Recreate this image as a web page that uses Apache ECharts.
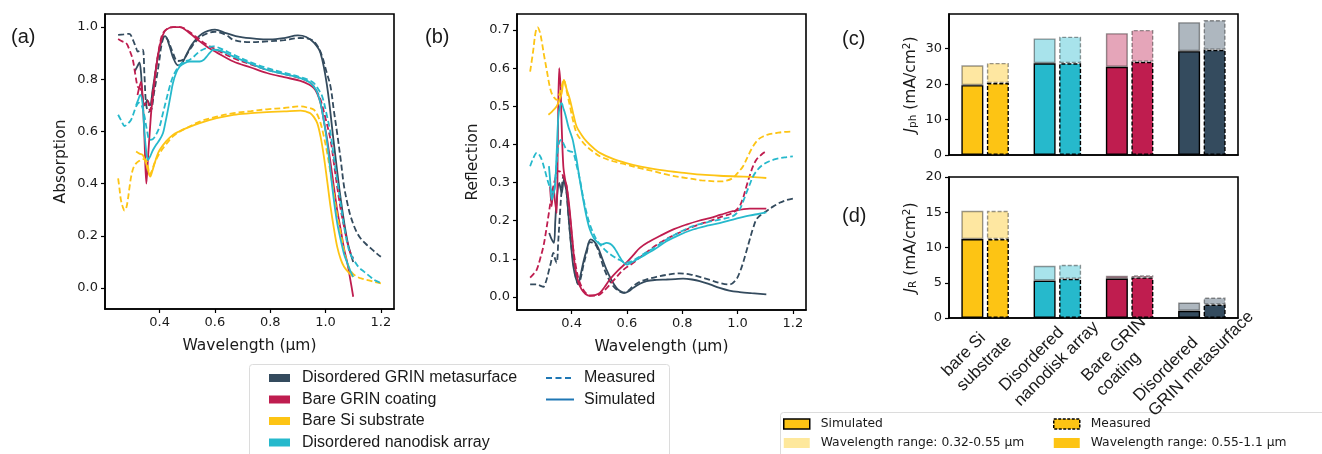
<!DOCTYPE html>
<html>
<head>
<meta charset="utf-8">
<script src="https://cdn.jsdelivr.net/npm/echarts@6.0.0/dist/echarts.min.js"></script>
<style>
  html, body { margin: 0; padding: 0; background: #fff; }
  #chart { width: 1322px; height: 454px; }
</style>
</head>
<body>
<div id="chart"></div>
<script>
// ---------- sample names and colours ----------
const sampleNames = ['Disordered GRIN metasurface', 'Bare GRIN coating', 'Bare Si substrate', 'Disordered nanodisk array'];
const sampleColors = ['#344b5e', '#bf1d4f', '#fdc414', '#26b9cc'];
const lightColors = ['#aeb7bf', '#e5a5b9', '#fee89c', '#a8e3eb'];

// ---------- (a) absorption spectra: [wavelength (µm), absorption] ----------
const absMetaSim = [[0.31,0.83],[0.32,0.85],[0.327,0.865],[0.333,0.82],[0.339,0.72],[0.347,0.70],[0.355,0.72],[0.365,0.70],[0.375,0.76],[0.388,0.85],[0.40,0.92],[0.412,0.958],[0.42,0.965],[0.435,0.93],[0.45,0.88],[0.467,0.853],[0.48,0.86],[0.497,0.894],[0.515,0.93],[0.533,0.955],[0.555,0.975],[0.575,0.985],[0.6,0.99],[0.64,0.977],[0.69,0.962],[0.75,0.955],[0.8,0.953],[0.85,0.958],[0.9,0.968],[0.93,0.962],[0.958,0.94],[0.982,0.9],[1.006,0.77],[1.03,0.555],[1.055,0.34],[1.079,0.18],[1.1,0.1]];
const absMetaMeas = [[0.25,0.97],[0.27,0.972],[0.29,0.974],[0.303,0.952],[0.315,0.92],[0.321,0.906],[0.33,0.91],[0.339,0.913],[0.345,0.82],[0.351,0.708],[0.36,0.675],[0.37,0.683],[0.38,0.75],[0.388,0.798],[0.4,0.88],[0.406,0.926],[0.418,0.965],[0.43,0.95],[0.445,0.91],[0.465,0.87],[0.485,0.875],[0.51,0.915],[0.54,0.955],[0.57,0.975],[0.6,0.982],[0.64,0.97],[0.667,0.951],[0.727,0.942],[0.788,0.945],[0.85,0.95],[0.909,0.958],[0.94,0.955],[0.958,0.945],[0.975,0.92],[0.988,0.887],[1.003,0.83],[1.018,0.772],[1.03,0.68],[1.042,0.593],[1.055,0.49],[1.067,0.389],[1.08,0.32],[1.091,0.274],[1.11,0.22],[1.127,0.19],[1.145,0.17],[1.164,0.152],[1.18,0.137],[1.2,0.12]];
const absGrinSim = [[0.32,0.74],[0.327,0.77],[0.333,0.79],[0.338,0.74],[0.345,0.58],[0.352,0.40],[0.358,0.5],[0.364,0.593],[0.37,0.68],[0.376,0.734],[0.388,0.849],[0.40,0.926],[0.412,0.97],[0.424,0.99],[0.448,1.0],[0.473,1.0],[0.51,0.975],[0.545,0.945],[0.575,0.922],[0.606,0.903],[0.667,0.868],[0.73,0.845],[0.788,0.824],[0.85,0.808],[0.909,0.794],[0.94,0.78],[0.958,0.766],[0.97,0.745],[0.982,0.708],[0.994,0.64],[1.006,0.568],[1.018,0.48],[1.03,0.389],[1.042,0.3],[1.055,0.223],[1.067,0.15],[1.079,0.095],[1.09,0.03],[1.1,-0.033]];
const absGrinMeas = [[0.25,0.954],[0.265,0.945],[0.279,0.939],[0.29,0.915],[0.303,0.875],[0.312,0.82],[0.321,0.772],[0.333,0.76],[0.345,0.70],[0.355,0.72],[0.365,0.68],[0.375,0.75],[0.388,0.85],[0.40,0.93],[0.412,0.977],[0.43,0.995],[0.45,1.0],[0.473,1.0],[0.51,0.98],[0.545,0.951],[0.575,0.93],[0.606,0.913],[0.667,0.881],[0.73,0.857],[0.788,0.836],[0.85,0.82],[0.909,0.804],[0.94,0.79],[0.958,0.772],[0.97,0.75],[0.982,0.721],[1.0,0.65],[1.018,0.568],[1.03,0.48],[1.042,0.389],[1.055,0.3],[1.067,0.235],[1.08,0.17],[1.09,0.135],[1.1,0.114]];
const absSiSim = [[0.315,0.523],[0.327,0.515],[0.339,0.51],[0.35,0.48],[0.358,0.453],[0.366,0.427],[0.374,0.45],[0.382,0.478],[0.39,0.505],[0.4,0.529],[0.424,0.563],[0.448,0.587],[0.47,0.6],[0.497,0.613],[0.545,0.632],[0.606,0.651],[0.667,0.664],[0.73,0.67],[0.788,0.674],[0.85,0.677],[0.909,0.68],[0.93,0.676],[0.945,0.67],[0.958,0.655],[0.97,0.632],[0.982,0.58],[0.994,0.504],[1.006,0.41],[1.018,0.312],[1.03,0.23],[1.042,0.159],[1.055,0.11],[1.067,0.082],[1.085,0.058],[1.1,0.043]];
const absSiMeas = [[0.25,0.42],[0.255,0.38],[0.26,0.338],[0.267,0.31],[0.273,0.297],[0.28,0.31],[0.285,0.338],[0.291,0.385],[0.297,0.427],[0.305,0.46],[0.315,0.478],[0.327,0.488],[0.339,0.494],[0.352,0.49],[0.358,0.465],[0.364,0.434],[0.372,0.45],[0.382,0.48],[0.4,0.517],[0.424,0.552],[0.448,0.581],[0.47,0.598],[0.497,0.613],[0.545,0.638],[0.606,0.657],[0.667,0.67],[0.73,0.678],[0.788,0.685],[0.85,0.69],[0.909,0.696],[0.94,0.69],[0.958,0.683],[0.97,0.665],[0.982,0.632],[0.994,0.58],[1.006,0.517],[1.018,0.44],[1.03,0.363],[1.042,0.28],[1.055,0.21],[1.067,0.145],[1.079,0.095],[1.095,0.06],[1.115,0.043],[1.135,0.035],[1.152,0.031],[1.175,0.024],[1.2,0.018]];
const absDiskSim = [[0.315,0.70],[0.322,0.72],[0.33,0.74],[0.338,0.71],[0.345,0.6],[0.352,0.52],[0.358,0.491],[0.366,0.505],[0.376,0.529],[0.388,0.55],[0.4,0.568],[0.412,0.593],[0.42,0.63],[0.43,0.683],[0.44,0.74],[0.448,0.785],[0.46,0.825],[0.473,0.849],[0.49,0.862],[0.509,0.868],[0.53,0.868],[0.545,0.868],[0.56,0.875],[0.57,0.887],[0.583,0.903],[0.594,0.913],[0.62,0.91],[0.667,0.887],[0.73,0.86],[0.788,0.836],[0.85,0.82],[0.909,0.804],[0.94,0.79],[0.958,0.772],[0.97,0.75],[0.982,0.708],[0.994,0.64],[1.006,0.555],[1.018,0.445],[1.03,0.338],[1.042,0.25],[1.055,0.184],[1.067,0.13],[1.079,0.095],[1.09,0.065],[1.1,0.043]];
const absDiskMeas = [[0.25,0.664],[0.262,0.64],[0.273,0.621],[0.285,0.63],[0.297,0.645],[0.306,0.67],[0.315,0.696],[0.325,0.71],[0.335,0.70],[0.345,0.66],[0.355,0.6],[0.364,0.568],[0.375,0.57],[0.388,0.59],[0.4,0.619],[0.412,0.67],[0.424,0.721],[0.436,0.77],[0.448,0.81],[0.46,0.835],[0.473,0.855],[0.49,0.868],[0.509,0.875],[0.527,0.89],[0.545,0.907],[0.57,0.92],[0.594,0.926],[0.63,0.913],[0.667,0.894],[0.73,0.865],[0.788,0.843],[0.85,0.825],[0.909,0.808],[0.94,0.797],[0.958,0.785],[0.975,0.76],[0.988,0.734],[1.003,0.67],[1.018,0.593],[1.03,0.5],[1.042,0.414],[1.055,0.32],[1.067,0.235],[1.08,0.165],[1.09,0.13],[1.103,0.107],[1.12,0.08],[1.139,0.063],[1.16,0.045],[1.176,0.031],[1.2,0.02]];

// ---------- (b) reflection spectra: [wavelength (µm), reflection] ----------
const reflMetaSim = [[0.319,0.168],[0.323,0.16],[0.328,0.151],[0.336,0.142],[0.341,0.2],[0.346,0.255],[0.355,0.299],[0.36,0.285],[0.364,0.273],[0.372,0.308],[0.378,0.29],[0.382,0.273],[0.388,0.22],[0.394,0.168],[0.4,0.12],[0.406,0.081],[0.415,0.05],[0.424,0.037],[0.433,0.06],[0.442,0.09],[0.455,0.125],[0.469,0.151],[0.482,0.145],[0.496,0.129],[0.511,0.1],[0.526,0.072],[0.544,0.045],[0.562,0.024],[0.577,0.015],[0.592,0.011],[0.607,0.015],[0.623,0.024],[0.647,0.035],[0.671,0.042],[0.707,0.045],[0.743,0.046],[0.775,0.047],[0.803,0.048],[0.835,0.046],[0.863,0.042],[0.9,0.033],[0.935,0.024],[0.97,0.017],[1.007,0.013],[1.05,0.01],[1.104,0.007]];
const reflMetaMeas = [[0.25,0.033],[0.262,0.033],[0.274,0.033],[0.286,0.03],[0.298,0.027],[0.307,0.04],[0.316,0.064],[0.325,0.09],[0.334,0.116],[0.34,0.1],[0.346,0.09],[0.352,0.15],[0.358,0.221],[0.364,0.28],[0.37,0.316],[0.376,0.3],[0.382,0.273],[0.388,0.22],[0.394,0.168],[0.403,0.11],[0.412,0.064],[0.424,0.033],[0.433,0.05],[0.442,0.081],[0.454,0.115],[0.466,0.144],[0.478,0.142],[0.49,0.133],[0.502,0.11],[0.514,0.081],[0.532,0.05],[0.55,0.029],[0.568,0.017],[0.586,0.011],[0.605,0.017],[0.623,0.029],[0.647,0.04],[0.671,0.046],[0.707,0.053],[0.743,0.058],[0.791,0.062],[0.83,0.059],[0.863,0.053],[0.9,0.045],[0.935,0.037],[0.971,0.033],[0.995,0.046],[1.008,0.065],[1.02,0.09],[1.032,0.12],[1.044,0.151],[1.056,0.18],[1.068,0.203],[1.085,0.216],[1.104,0.225],[1.128,0.237],[1.152,0.247],[1.176,0.254],[1.2,0.258]];
const reflGrinSim = [[0.322,0.29],[0.328,0.238],[0.334,0.29],[0.34,0.25],[0.346,0.22],[0.35,0.4],[0.355,0.6],[0.36,0.55],[0.364,0.45],[0.37,0.343],[0.376,0.31],[0.382,0.29],[0.388,0.26],[0.394,0.22],[0.403,0.15],[0.412,0.081],[0.424,0.04],[0.436,0.02],[0.45,0.008],[0.466,0.003],[0.485,0.005],[0.502,0.011],[0.52,0.027],[0.538,0.046],[0.568,0.07],[0.598,0.09],[0.623,0.11],[0.647,0.129],[0.68,0.145],[0.719,0.16],[0.77,0.178],[0.815,0.19],[0.86,0.2],[0.899,0.207],[0.94,0.216],[0.983,0.225],[1.044,0.232],[1.104,0.232]];
const reflGrinMeas = [[0.25,0.051],[0.262,0.06],[0.274,0.072],[0.286,0.1],[0.298,0.133],[0.307,0.17],[0.316,0.212],[0.325,0.255],[0.334,0.29],[0.343,0.315],[0.352,0.33],[0.36,0.328],[0.37,0.316],[0.376,0.305],[0.382,0.29],[0.388,0.25],[0.394,0.212],[0.4,0.165],[0.406,0.125],[0.418,0.07],[0.43,0.037],[0.448,0.013],[0.466,0.004],[0.485,0.004],[0.502,0.007],[0.525,0.022],[0.55,0.042],[0.585,0.07],[0.623,0.09],[0.67,0.117],[0.719,0.142],[0.77,0.162],[0.815,0.177],[0.86,0.19],[0.899,0.199],[0.94,0.21],[0.983,0.221],[1.007,0.238],[1.02,0.26],[1.032,0.29],[1.044,0.318],[1.056,0.343],[1.068,0.36],[1.08,0.369],[1.092,0.377],[1.104,0.382]];
const reflSiSim = [[0.316,0.478],[0.33,0.487],[0.346,0.5],[0.355,0.515],[0.364,0.534],[0.372,0.569],[0.382,0.545],[0.394,0.517],[0.406,0.48],[0.418,0.447],[0.436,0.425],[0.454,0.408],[0.48,0.39],[0.502,0.378],[0.55,0.362],[0.598,0.351],[0.65,0.342],[0.695,0.336],[0.75,0.33],[0.815,0.325],[0.87,0.321],[0.935,0.318],[1.0,0.316],[1.05,0.315],[1.104,0.312]];
const reflSiMeas = [[0.25,0.591],[0.26,0.64],[0.27,0.695],[0.277,0.707],[0.285,0.695],[0.292,0.67],[0.3,0.635],[0.31,0.595],[0.32,0.555],[0.328,0.534],[0.338,0.522],[0.346,0.517],[0.355,0.53],[0.364,0.552],[0.372,0.569],[0.382,0.54],[0.394,0.5],[0.406,0.46],[0.418,0.43],[0.436,0.41],[0.454,0.395],[0.48,0.38],[0.502,0.369],[0.55,0.356],[0.598,0.347],[0.65,0.337],[0.695,0.33],[0.75,0.32],[0.815,0.312],[0.87,0.306],[0.935,0.303],[0.96,0.305],[0.983,0.312],[1.0,0.325],[1.02,0.343],[1.038,0.37],[1.056,0.395],[1.075,0.413],[1.092,0.421],[1.115,0.427],[1.14,0.43],[1.17,0.433],[1.2,0.434]];
const reflDiskSim = [[0.318,0.343],[0.323,0.3],[0.328,0.255],[0.334,0.27],[0.34,0.29],[0.346,0.38],[0.352,0.473],[0.358,0.5],[0.364,0.508],[0.37,0.495],[0.376,0.482],[0.382,0.465],[0.388,0.447],[0.396,0.43],[0.404,0.412],[0.41,0.39],[0.418,0.36],[0.43,0.305],[0.442,0.255],[0.454,0.21],[0.466,0.177],[0.48,0.155],[0.496,0.142],[0.51,0.138],[0.526,0.142],[0.538,0.14],[0.55,0.133],[0.562,0.12],[0.574,0.105],[0.586,0.092],[0.598,0.085],[0.62,0.092],[0.647,0.103],[0.7,0.125],[0.743,0.146],[0.79,0.163],[0.839,0.177],[0.89,0.187],[0.935,0.194],[0.983,0.203],[1.032,0.212],[1.07,0.217],[1.104,0.222]];
const reflDiskMeas = [[0.25,0.343],[0.262,0.365],[0.274,0.378],[0.283,0.373],[0.292,0.36],[0.304,0.33],[0.316,0.299],[0.325,0.282],[0.334,0.273],[0.343,0.33],[0.352,0.395],[0.358,0.41],[0.364,0.412],[0.372,0.4],[0.382,0.386],[0.394,0.382],[0.406,0.378],[0.418,0.345],[0.43,0.308],[0.442,0.26],[0.454,0.221],[0.466,0.19],[0.478,0.168],[0.49,0.15],[0.502,0.138],[0.526,0.12],[0.55,0.107],[0.574,0.097],[0.598,0.09],[0.62,0.095],[0.647,0.107],[0.7,0.13],[0.743,0.151],[0.79,0.17],[0.839,0.186],[0.89,0.196],[0.935,0.203],[0.983,0.212],[1.007,0.229],[1.02,0.25],[1.032,0.273],[1.044,0.295],[1.056,0.316],[1.074,0.335],[1.092,0.347],[1.115,0.356],[1.14,0.362],[1.17,0.366],[1.2,0.369]];

// ---------- (c), (d) current densities (mA/cm²) ----------
const barCategories = ['bare Si\nsubstrate', 'Disordered\nnanodisk array', 'Bare GRIN\ncoating', 'Disordered\nGRIN metasurface'];
const barColors = ['#fdc414', '#26b9cc', '#bf1d4f', '#344b5e'];
// long = 0.55–1.1 µm part, short = 0.32–0.55 µm part
const jphSimLong = [19.7, 25.9, 24.9, 29.3];
const jphSimShort = [5.6, 7.0, 9.5, 8.2];
const jphMeasLong = [20.3, 25.9, 26.3, 29.7];
const jphMeasShort = [5.7, 7.5, 9.0, 8.4];
const jrSimLong = [11.2, 5.3, 5.6, 1.0];
const jrSimShort = [4.0, 2.1, 0.4, 1.2];
const jrMeasLong = [11.2, 5.55, 5.75, 1.9];
const jrMeasShort = [4.0, 2.0, 0.3, 1.0];

// ---------- tick values ----------
const absTicks = [0.0, 0.2, 0.4, 0.6, 0.8, 1.0];
const reflTicks = [0.0, 0.1, 0.2, 0.3, 0.4, 0.5, 0.6, 0.7];
const waveTicks = [0.4, 0.6, 0.8, 1.0, 1.2];
const jphTicks = [0, 10, 20, 30];
const jrTicks = [0, 5, 10, 15, 20];

const rangeShortName = 'Wavelength range: 0.32-0.55 µm';
const rangeLongName = 'Wavelength range: 0.55-1.1 µm';

const tickFont = { color: '#1a1a1a', fontFamily: 'DejaVu Sans', fontSize: 13 };
const nameFont = { color: '#1a1a1a', fontFamily: 'DejaVu Sans', fontSize: 15.5 };

function valueAxis(gridIndex, min, max, ticks, fmt, extra) {
  return Object.assign({
    type: 'value', gridIndex: gridIndex, min: min, max: max,
    axisLine: { show: true, onZero: false, lineStyle: { color: '#000', width: 1.6 } },
    axisTick: { show: true, length: 4, customValues: ticks, lineStyle: { color: '#000', width: 1.2 } },
    axisLabel: Object.assign({ customValues: ticks, formatter: fmt, margin: 7 }, tickFont),
    splitLine: { show: false }
  }, extra || {});
}
const fmt1 = v => Number(v).toFixed(1);
const fmt0 = v => String(Math.round(v));

function line(name, data, color, dashed, gridIdx) {
  return {
    type: 'line', name: name, data: data,
    xAxisIndex: gridIdx, yAxisIndex: gridIdx,
    showSymbol: false, symbol: 'none', smooth: 0.35, silent: true,
    lineStyle: { color: color, width: 1.8, type: dashed ? [6, 3] : 'solid', cap: 'butt' },
    itemStyle: { color: color }
  };
}

const specSets = [
  [absMetaMeas, absMetaSim, absGrinMeas, absGrinSim, absSiMeas, absSiSim, absDiskMeas, absDiskSim],
  [reflMetaMeas, reflMetaSim, reflGrinMeas, reflGrinSim, reflSiMeas, reflSiSim, reflDiskMeas, reflDiskSim]
];

const series = [];
specSets.forEach((set, g) => {
  for (let k = 0; k < 4; k++) {
    series.push(line(sampleNames[k], set[2 * k], sampleColors[k], true, g));
    series.push(line(sampleNames[k], set[2 * k + 1], sampleColors[k], false, g));
  }
});
// entries that only carry the line-style legend keys
series.push({ type: 'line', name: 'Measured', data: [], xAxisIndex: 0, yAxisIndex: 0, symbol: 'none',
  lineStyle: { color: '#1f77b4', width: 2.6, type: [6, 3.5] }, itemStyle: { color: '#1f77b4' } });
series.push({ type: 'line', name: 'Simulated', data: [], xAxisIndex: 0, yAxisIndex: 0, symbol: 'none',
  lineStyle: { color: '#1f77b4', width: 2.6 }, itemStyle: { color: '#1f77b4' } });

function barItems(values, light, dashed) {
  return values.map((v, i) => ({
    value: v,
    itemStyle: {
      color: barColors[i],
      opacity: light ? 0.4 : 1,
      borderColor: '#000',
      borderWidth: 1.4,
      borderType: dashed ? [4, 2] : 'solid'
    }
  }));
}
function barPair(g, long, short, stack, dashed) {
  series.push({ type: 'bar', name: rangeLongName, stack: stack + g, xAxisIndex: g, yAxisIndex: g,
    barWidth: 22, barGap: '16%', silent: true, data: barItems(long, false, dashed) });
  series.push({ type: 'bar', name: rangeShortName, stack: stack + g, xAxisIndex: g, yAxisIndex: g,
    barWidth: 22, barGap: '16%', silent: true, data: barItems(short, true, dashed) });
}
barPair(2, jphSimLong, jphSimShort, 'sim', false);
barPair(2, jphMeasLong, jphMeasShort, 'meas', true);
barPair(3, jrSimLong, jrSimShort, 'sim', false);
barPair(3, jrMeasLong, jrMeasShort, 'meas', true);

// Category labels: lines are left-aligned inside a block that is centred near the tick.
const catFont = { family: 'Liberation Sans', size: 17 };
const measureCtx = document.createElement('canvas').getContext('2d');
measureCtx.font = catFont.size + 'px "' + catFont.family + '"';
const catRich = {};
barCategories.forEach((c, i) => {
  const w = Math.max.apply(null, c.split('\n').map(s => measureCtx.measureText(s).width));
  catRich['c' + i] = { width: Math.ceil(w) + 1, align: 'left', fontFamily: catFont.family, fontSize: catFont.size,
    lineHeight: 21, color: '#1a1a1a' };
});
const catFormatter = (value, index) => value.split('\n').map(s => '{c' + index + '|' + s + '}').join('\n');

const gridBox = { show: true, borderColor: '#000', borderWidth: 1.6, backgroundColor: 'transparent' };

const currentName = (sub) => ({
  name: '{j|J}{s|' + sub + '} (mA/cm{p|2})',
  nameLocation: 'middle', nameGap: 30,
  nameTextStyle: Object.assign({}, nameFont, {
    rich: {
      j: { fontFamily: 'DejaVu Sans', fontStyle: 'italic', fontSize: 15.5, color: '#1a1a1a' },
      s: { fontFamily: 'DejaVu Sans', fontSize: 10.5, color: '#1a1a1a', verticalAlign: 'bottom', padding: [6, 0, 0, 0] },
      p: { fontFamily: 'DejaVu Sans', fontSize: 10.5, color: '#1a1a1a', verticalAlign: 'top', padding: [0, 0, 6, 0] }
    }
  })
});

const hiddenMarker = { color: 'rgba(0,0,0,0)', borderColor: 'rgba(0,0,0,0)', borderWidth: 0 };

const option = {
  animation: false,
  backgroundColor: '#fff',
  grid: [
    Object.assign({ left: 105, top: 14, width: 289, height: 295 }, gridBox),
    Object.assign({ left: 517, top: 14, width: 289, height: 296 }, gridBox),
    Object.assign({ left: 949, top: 14, width: 289, height: 141 }, gridBox),
    Object.assign({ left: 949, top: 177, width: 289, height: 141 }, gridBox)
  ],
  xAxis: [
    valueAxis(0, 0.2025, 1.2475, waveTicks, fmt1, { name: 'Wavelength (µm)', nameLocation: 'middle', nameGap: 29, nameTextStyle: nameFont }),
    valueAxis(1, 0.2025, 1.2475, waveTicks, fmt1, { name: 'Wavelength (µm)', nameLocation: 'middle', nameGap: 29, nameTextStyle: nameFont }),
    { type: 'category', gridIndex: 2, data: barCategories,
      axisLine: { show: true, lineStyle: { color: '#000', width: 1.6 } },
      axisTick: { show: false }, axisLabel: { show: false }, splitLine: { show: false } },
    { type: 'category', gridIndex: 3, data: barCategories,
      axisLine: { show: true, lineStyle: { color: '#000', width: 1.6 } },
      axisTick: { show: false }, splitLine: { show: false },
      axisLabel: { interval: 0, rotate: 45, align: 'center', verticalAlign: 'middle', margin: 38,
        padding: [0, 11, 11, 0],
        formatter: catFormatter, rich: catRich,
        fontFamily: catFont.family, fontSize: catFont.size, color: '#1a1a1a' } }
  ],
  yAxis: [
    valueAxis(0, -0.08, 1.05, absTicks, fmt1, { name: 'Absorption', nameLocation: 'middle', nameGap: 36, nameTextStyle: nameFont }),
    valueAxis(1, -0.034, 0.742, reflTicks, fmt1, { name: 'Reflection', nameLocation: 'middle', nameGap: 36, nameTextStyle: nameFont }),
    valueAxis(2, 0, 39.8, jphTicks, fmt0, currentName('ph')),
    valueAxis(3, 0, 20, jrTicks, fmt0, currentName('R'))
  ],
  legend: [
    { orient: 'vertical', left: 269, top: 370, padding: 0, itemGap: 5.5, itemWidth: 21, itemHeight: 8,
      textStyle: { fontFamily: 'Liberation Sans', fontSize: 16, color: '#1a1a1a', lineHeight: 16, padding: [0, 0, 0, 7] },
      data: sampleNames.map((n, i) => ({ name: n, icon: 'rect', itemStyle: { color: sampleColors[i], borderWidth: 0 } })) },
    { orient: 'vertical', left: 545, top: 370, padding: 0, itemGap: 5.5, itemWidth: 28, itemHeight: 14,
      textStyle: { fontFamily: 'Liberation Sans', fontSize: 16, color: '#1a1a1a', lineHeight: 16, padding: [0, 0, 0, 5] },
      data: [{ name: 'Measured', itemStyle: hiddenMarker }, { name: 'Simulated', itemStyle: hiddenMarker }] },
    { orient: 'vertical', left: 783, top: 417, padding: 0, itemGap: 5, itemWidth: 26, itemHeight: 10,
      textStyle: { fontFamily: 'DejaVu Sans', fontSize: 12.3, color: '#1a1a1a', lineHeight: 14, padding: [0, 0, 0, 6] },
      data: [
        { name: 'Simulated', icon: 'rect', itemStyle: { color: barColors[0], borderColor: '#000', borderWidth: 1.5, borderType: 'solid' } },
        { name: rangeShortName, icon: 'rect', itemStyle: { color: lightColors[2], borderWidth: 0 } }
      ] },
    { orient: 'vertical', left: 1053, top: 417, padding: 0, itemGap: 5, itemWidth: 26, itemHeight: 10,
      textStyle: { fontFamily: 'DejaVu Sans', fontSize: 12.3, color: '#1a1a1a', lineHeight: 14, padding: [0, 0, 0, 6] },
      data: [
        { name: 'Measured', icon: 'rect', itemStyle: { color: barColors[0], borderColor: '#000', borderWidth: 1.5, borderType: [3, 1.5] } },
        { name: rangeLongName, icon: 'rect', itemStyle: { color: barColors[0], borderWidth: 0 } }
      ] }
  ],
  graphic: [
    { type: 'rect', z: -1, shape: { x: 249.5, y: 364.5, width: 420, height: 120, r: 3 }, style: { fill: '#fff', stroke: '#dcdcdc', lineWidth: 1 } },
    { type: 'rect', z: -1, shape: { x: 780.5, y: 412.5, width: 600, height: 80, r: 3 }, style: { fill: '#fff', stroke: '#dcdcdc', lineWidth: 1 } },
    { type: 'text', left: 11, top: 27, style: { text: '(a)', font: '20px "Liberation Sans"', fill: '#1a1a1a' } },
    { type: 'text', left: 425, top: 27, style: { text: '(b)', font: '20px "Liberation Sans"', fill: '#1a1a1a' } },
    { type: 'text', left: 842, top: 29, style: { text: '(c)', font: '20px "Liberation Sans"', fill: '#1a1a1a' } },
    { type: 'text', left: 842, top: 206, style: { text: '(d)', font: '20px "Liberation Sans"', fill: '#1a1a1a' } }
  ],
  series: series
};

const chart = echarts.init(document.getElementById('chart'), null, { renderer: 'canvas', width: 1322, height: 454 });
chart.setOption(option);
</script>
</body>
</html>
